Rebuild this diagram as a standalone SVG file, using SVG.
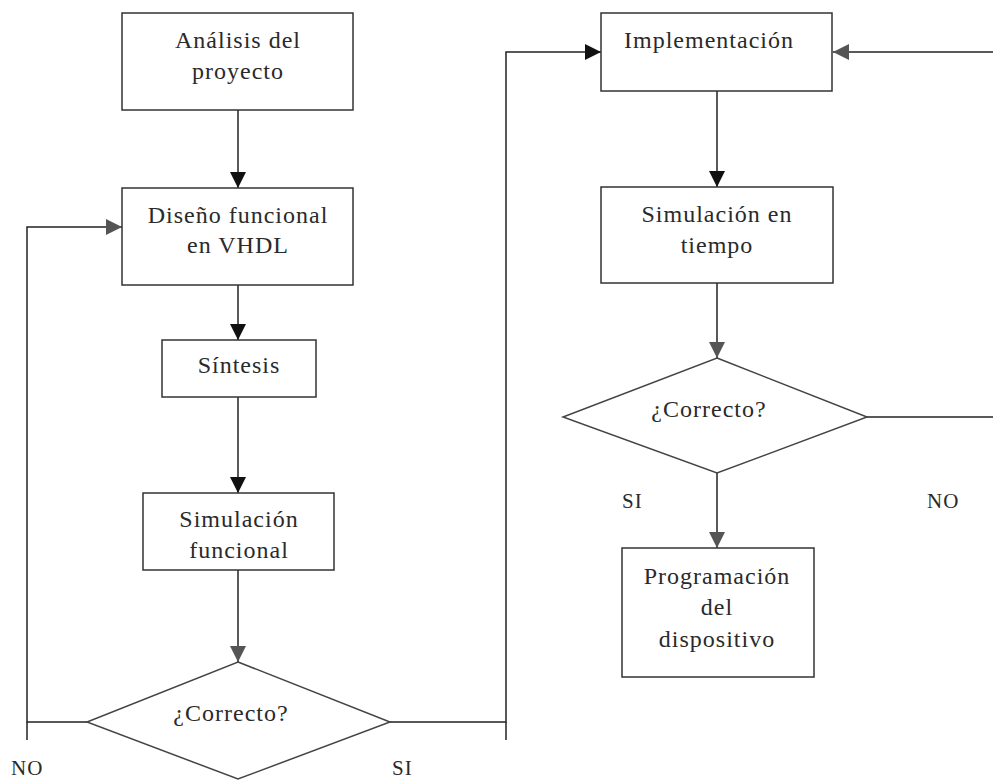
<svg xmlns="http://www.w3.org/2000/svg" width="993" height="781" viewBox="0 0 993 781">
<style>
.box{fill:#fff;stroke:#333;stroke-width:1.5}
.dia{fill:#fff;stroke:#444;stroke-width:1.5}
.t{font-family:"Liberation Serif","Times New Roman",serif;font-size:24px;fill:#2a2a2a;text-anchor:middle;letter-spacing:1px}
.lbl{font-family:"Liberation Serif","Times New Roman",serif;font-size:21px;fill:#2a2a2a;letter-spacing:1px}
.ln{fill:none;stroke:#222;stroke-width:1.5}
</style>
<defs>
<marker id="ab" viewBox="0 0 16 16" refX="16" refY="8" markerWidth="16" markerHeight="16" markerUnits="userSpaceOnUse" orient="auto">
<path d="M0,0 L16,8 L0,16 Z" fill="#111"/>
</marker>
<marker id="ag" viewBox="0 0 16 16" refX="16" refY="8" markerWidth="16" markerHeight="16" markerUnits="userSpaceOnUse" orient="auto">
<path d="M0,0 L16,8 L0,16 Z" fill="#555"/>
</marker>
</defs>
<rect width="993" height="781" fill="#fff"/>
<g id="connectors">
<line class="ln" x1="238" y1="110" x2="238" y2="188" marker-end="url(#ab)"/>
<line class="ln" x1="238" y1="265" x2="238" y2="340" marker-end="url(#ab)"/>
<line class="ln" x1="238" y1="397" x2="238" y2="493" marker-end="url(#ab)"/>
<line class="ln" x1="238" y1="565" x2="238" y2="662" marker-end="url(#ag)"/>
<polyline class="ln" points="87,722 27,722 27,227 122,227" marker-end="url(#ag)"/>
<line class="ln" x1="27" y1="722" x2="27" y2="740"/>
<polyline class="ln" points="390,722 506,722 506,52 601,52" marker-end="url(#ab)"/>
<line class="ln" x1="506" y1="722" x2="506" y2="740"/>
<line class="ln" x1="993" y1="52" x2="833" y2="52" marker-end="url(#ag)"/>
<line class="ln" x1="717" y1="91" x2="717" y2="187" marker-end="url(#ab)"/>
<line class="ln" x1="717" y1="265" x2="717" y2="358" marker-end="url(#ag)"/>
<line class="ln" x1="867" y1="417" x2="993" y2="417"/>
<line class="ln" x1="717" y1="473" x2="717" y2="548" marker-end="url(#ag)"/>
</g>
<g id="n1">
<rect class="box" x="122" y="13" width="231" height="97"/>
<text class="t" x="238" y="48">Análisis  del</text>
<text class="t" x="238" y="79">proyecto</text>
</g>
<g id="n2">
<rect class="box" x="122" y="188" width="231" height="97"/>
<text class="t" x="238" y="223">Diseño funcional</text>
<text class="t" x="238" y="253">en VHDL</text>
</g>
<g id="n3">
<rect class="box" x="162" y="340" width="154" height="57"/>
<text class="t" x="239" y="373">Síntesis</text>
</g>
<g id="n4">
<rect class="box" x="143" y="493" width="191" height="77"/>
<text class="t" x="239" y="527">Simulación</text>
<text class="t" x="239" y="558">funcional</text>
</g>
<g id="d1">
<polygon class="dia" points="238,662 390,722 238,779 87,722"/>
<text class="t" x="231" y="721" fill="#555">¿Correcto?</text>
</g>
<g id="n5">
<rect class="box" x="601" y="13" width="231" height="78"/>
<text class="t" x="709" y="48">Implementación</text>
</g>
<g id="n6">
<rect class="box" x="601" y="187" width="232" height="96"/>
<text class="t" x="717" y="222">Simulación en</text>
<text class="t" x="717" y="253">tiempo</text>
</g>
<g id="d2">
<polygon class="dia" points="717,358 867,417 717,473 563,417"/>
<text class="t" x="709" y="417">¿Correcto?</text>
</g>
<g id="n7">
<rect class="box" x="622" y="548" width="192" height="129"/>
<text class="t" x="717" y="584">Programación</text>
<text class="t" x="717" y="615">del</text>
<text class="t" x="717" y="647">dispositivo</text>
</g>
<g id="labels">
<text class="lbl" x="11" y="775">NO</text>
<text class="lbl" x="392" y="775">SI</text>
<text class="lbl" x="622" y="508">SI</text>
<text class="lbl" x="927" y="508">NO</text>
</g>
</svg>
